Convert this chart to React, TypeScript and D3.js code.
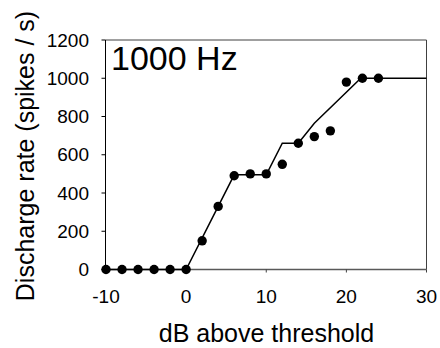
import React from "react";
import * as d3 from "d3";

// Measured discharge rates (spikes/s) at each level re: threshold
const levelsDb = [-10, -8, -6, -4, -2, 0, 2, 4, 6, 8, 10, 12, 14, 16, 18, 20, 22, 24];
const rates = [0, 0, 0, 0, 0, 0, 150, 330, 490, 500, 500, 550, 660, 695, 725, 980, 1000, 1000];

// Model rate-level function
const modelDb = [-10, 0, 6, 10, 12, 14, 16, 21.8, 30];
const modelRate = [0, 0, 495, 495, 660, 660, 765, 1000, 1000];

const xTicks = [-10, 0, 10, 20, 30];
const yTicks = [0, 200, 400, 600, 800, 1000, 1200];

const W = 440;
const H = 348;
const left = 105.5;
const right = 426.5;
const top = 40;
const bottom = 269.5;

export default function App() {
  const x = d3.scaleLinear().domain([-10, 30]).range([left + 0.5, right]);
  const y = d3.scaleLinear().domain([0, 1200]).range([bottom, top]);
  const line = d3
    .line<number>()
    .x((_, i) => x(modelDb[i]))
    .y((d) => y(d));
  const font = "'Liberation Sans', Arial, sans-serif";

  return (
    <svg
      width={W}
      height={H}
      style={{ position: "absolute", left: 0, top: 0 }}
      fontFamily={font}
    >
      <rect width={W} height={H} fill="#fff" />
      {/* frame */}
      <line x1={left} x2={right} y1={top} y2={top} stroke="#404040" strokeWidth={1} />
      <line x1={right} x2={right} y1={top} y2={bottom} stroke="#404040" strokeWidth={1} />
      <line x1={left} x2={right} y1={bottom} y2={bottom} stroke="#595959" strokeWidth={1.5} />
      <line x1={left} x2={left} y1={top} y2={bottom} stroke="#000" strokeWidth={1} />

      {/* y ticks */}
      {yTicks.map((t) => (
        <g key={"y" + t}>
          <line x1={left - 4} x2={left} y1={y(t)} y2={y(t)} stroke="#000" />
          <text x={89} y={y(t) + 6.5} textAnchor="end" fontSize={19} fill="#000">
            {t}
          </text>
        </g>
      ))}
      {/* x ticks */}
      {xTicks.map((t) => (
        <g key={"x" + t}>
          <line x1={x(t)} x2={x(t)} y1={bottom} y2={bottom + 3} stroke="#404040" />
          <text x={x(t)} y={303} textAnchor="middle" fontSize={19} fill="#000">
            {t}
          </text>
        </g>
      ))}

      <path d={line(modelRate) ?? ""} fill="none" stroke="#000" strokeWidth={1.5} />

      {rates.map((r, i) => (
        <circle key={i} cx={x(levelsDb[i])} cy={y(r)} r={4.7} fill="#000" />
      ))}

      <text x={111} y={70} fontSize={34} fill="#000">
        1000 Hz
      </text>

      <text x={266.5} y={341.5} textAnchor="middle" fontSize={25} fill="#000">
        dB above threshold
      </text>
      <text
        transform={`translate(34,156) rotate(-90)`}
        textAnchor="middle"
        fontSize={25}
        fill="#000"
      >
        Discharge rate (spikes / s)
      </text>
    </svg>
  );
}
